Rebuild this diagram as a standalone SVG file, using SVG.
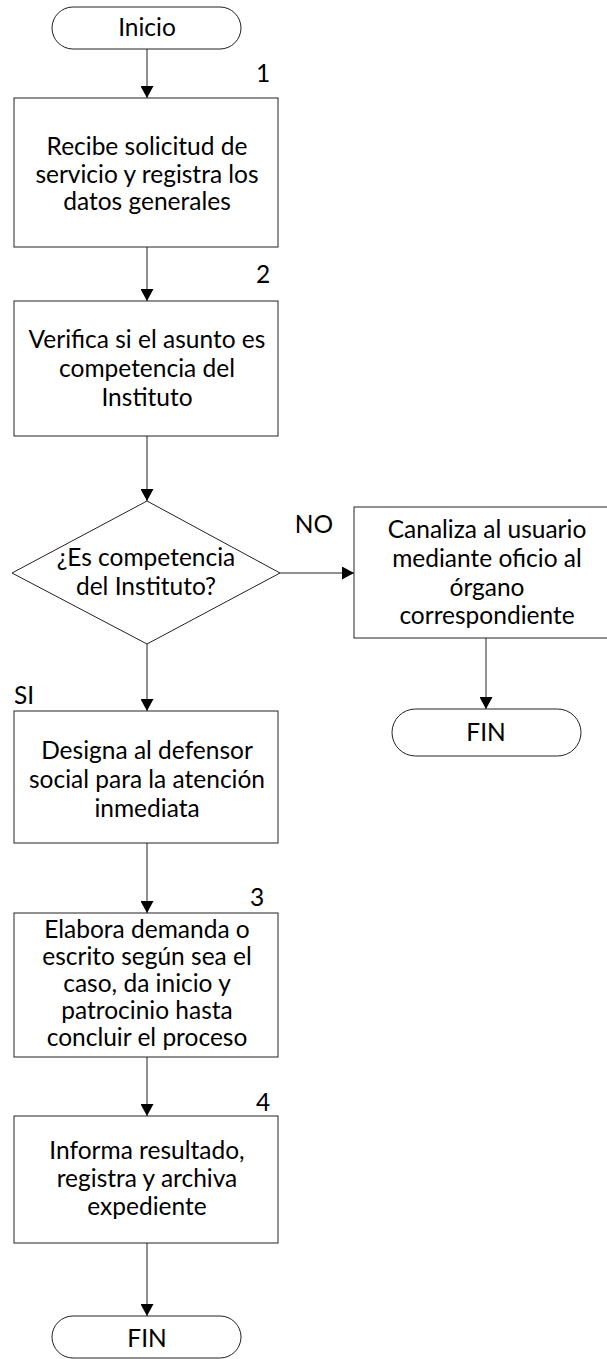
<svg xmlns="http://www.w3.org/2000/svg" width="607" height="1359" viewBox="0 0 607 1359">
<defs>
<style>
.s{fill:#fff;stroke:#222;stroke-width:1}
.t{font-family:Lato,"Open Sans","Liberation Sans",sans-serif;font-size:24.5px;fill:#000;text-anchor:middle}
.c{stroke:#222;stroke-width:1;fill:none;marker-end:url(#a)}
</style>
<marker id="a" markerWidth="14" markerHeight="13" refX="12" refY="6.5" orient="auto" markerUnits="userSpaceOnUse">
<path d="M0,0 L12,6.5 L0,13 Z" fill="#000"/>
</marker>
</defs>
<rect width="607" height="1359" fill="#fff"/>
<g id="connectors">
<path class="c" d="M147,49 V98"/>
<path class="c" d="M147,247 V301"/>
<path class="c" d="M147,436 V501"/>
<path class="c" d="M280,573 H354"/>
<path class="c" d="M486,638 V709"/>
<path class="c" d="M147,644 V711"/>
<path class="c" d="M147,843 V913"/>
<path class="c" d="M147,1057 V1116"/>
<path class="c" d="M147,1243 V1316"/>
</g>
<g id="inicio">
<rect class="s" x="52" y="7" width="189" height="42" rx="21"/>
<text class="t" x="147" y="36">Inicio</text>
</g>
<g id="paso1">
<rect class="s" x="14" y="98" width="264" height="149"/>
<text class="t" x="263" y="82">1</text>
<text class="t" x="147" y="155">Recibe solicitud de</text>
<text class="t" x="147" y="183">servicio y registra los</text>
<text class="t" x="147" y="210">datos generales</text>
</g>
<g id="paso2">
<rect class="s" x="14" y="301" width="264" height="135"/>
<text class="t" x="263" y="283">2</text>
<text class="t" x="147" y="348">Verifica si el asunto es</text>
<text class="t" x="147" y="377">competencia del</text>
<text class="t" x="147" y="406">Instituto</text>
</g>
<g id="decision">
<polygon class="s" points="147,501 280,573 147,644 12,573"/>
<text class="t" x="146" y="566">¿Es competencia</text>
<text class="t" x="146" y="595">del Instituto?</text>
<text class="t" x="314" y="533">NO</text>
<text class="t" x="24" y="704">SI</text>
</g>
<g id="canaliza">
<rect class="s" x="354" y="507" width="266" height="131"/>
<text class="t" x="487" y="538">Canaliza al usuario</text>
<text class="t" x="487" y="567">mediante oficio al</text>
<text class="t" x="487" y="596">órgano</text>
<text class="t" x="487" y="624">correspondiente</text>
</g>
<g id="fin1">
<rect class="s" x="392" y="709" width="189" height="47" rx="23.5"/>
<text class="t" x="486" y="741">FIN</text>
</g>
<g id="designa">
<rect class="s" x="14" y="711" width="264" height="132"/>
<text class="t" x="147" y="759">Designa al defensor</text>
<text class="t" x="147" y="788">social para la atención</text>
<text class="t" x="147" y="817">inmediata</text>
</g>
<g id="paso3">
<rect class="s" x="14" y="913" width="264" height="144"/>
<text class="t" x="257" y="906">3</text>
<text class="t" x="147" y="938">Elabora demanda o</text>
<text class="t" x="147" y="965">escrito según sea el</text>
<text class="t" x="147" y="992">caso, da inicio y</text>
<text class="t" x="147" y="1019">patrocinio hasta</text>
<text class="t" x="147" y="1046">concluir el proceso</text>
</g>
<g id="paso4">
<rect class="s" x="14" y="1116" width="264" height="127"/>
<text class="t" x="263" y="1111">4</text>
<text class="t" x="147" y="1159">Informa resultado,</text>
<text class="t" x="147" y="1187">registra y archiva</text>
<text class="t" x="147" y="1215">expediente</text>
</g>
<g id="fin2">
<rect class="s" x="52" y="1316" width="189" height="42" rx="21"/>
<text class="t" x="147" y="1347">FIN</text>
</g>
</svg>
